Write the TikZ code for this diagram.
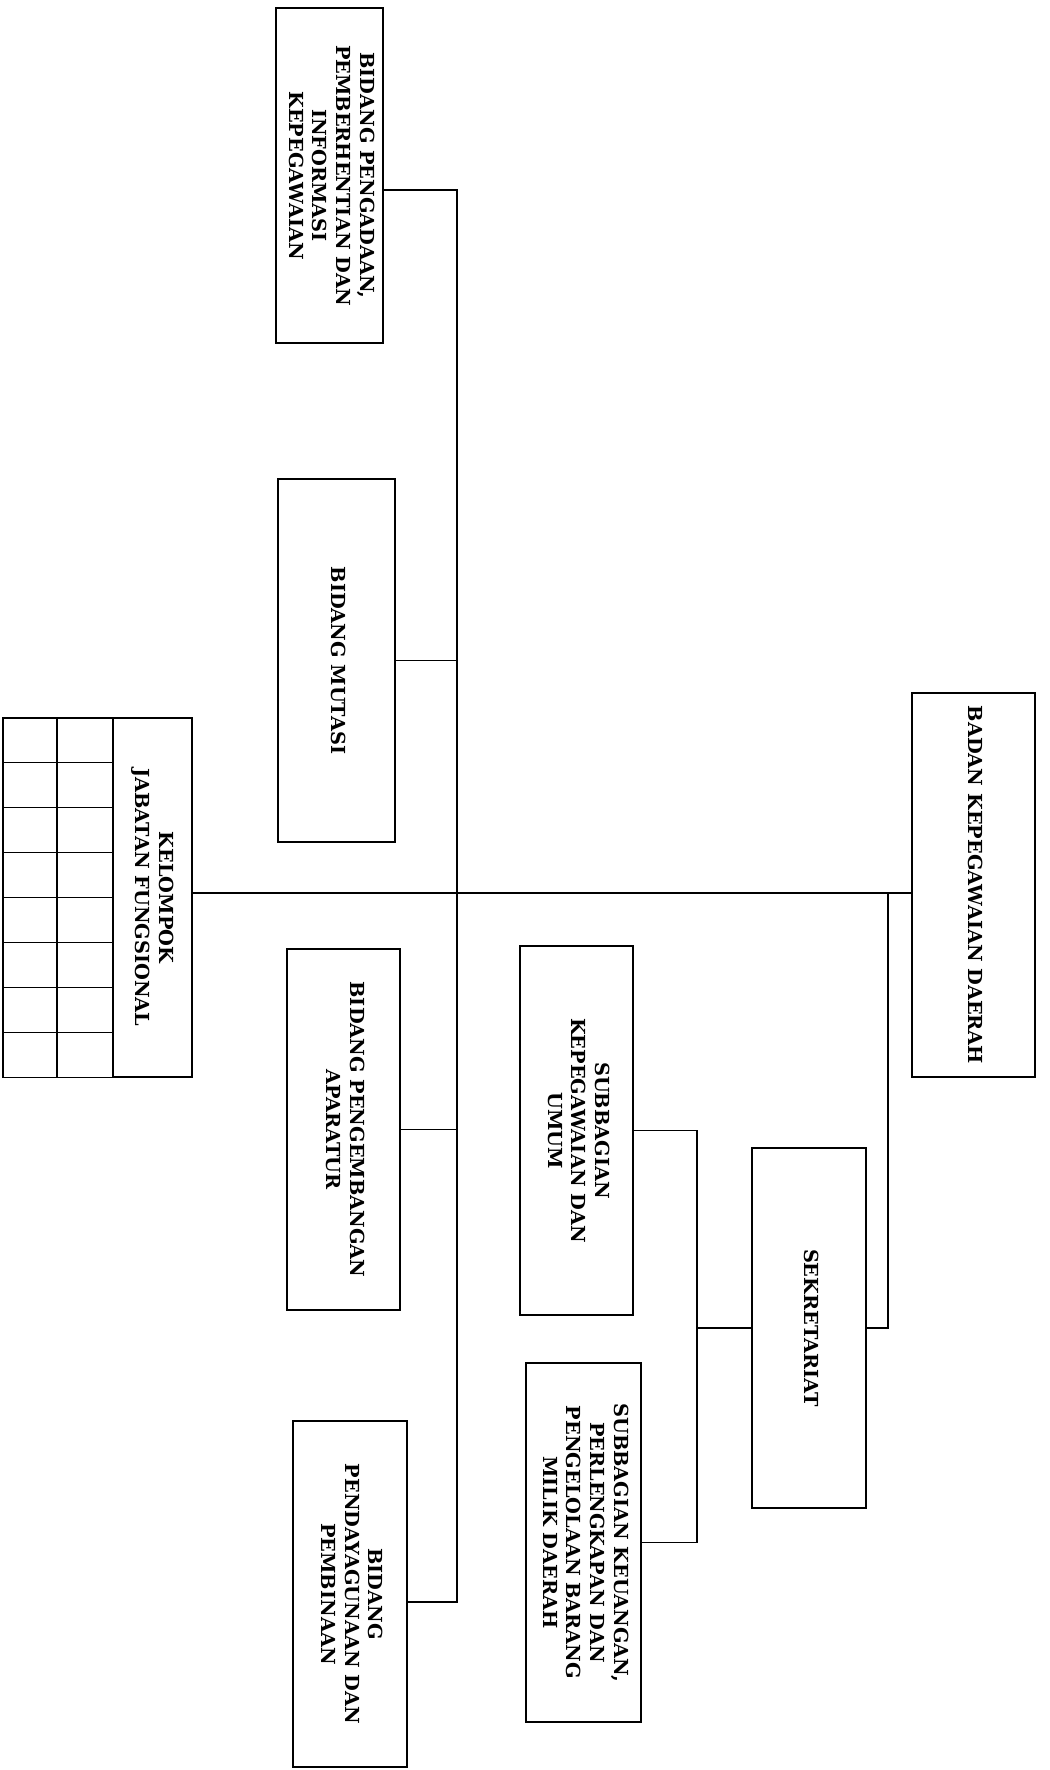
\documentclass[tikz,border=0pt]{standalone}
\usepackage{fontspec}
\setmainfont{DejaVu Serif}
\usepackage{graphicx}
\usepackage{tikz}

% text of a unit, set top to bottom
\newcommand{\vlabel}[1]{\rotatebox{-90}{\begin{tabular}{@{}c@{}}#1\end{tabular}}}

\begin{document}
\begin{tikzpicture}
		[x=0.02cm,y=-0.02cm,line cap=round,
		%Styles
		unit/.style={draw,line width=0.8pt,inner sep=0pt,font=\fontsize{11}{13.5}\selectfont\bfseries},
		link/.style={line width=0.6pt},
		cell/.style={line width=0.7pt}
		]
		
		\useasboundingbox (0,0) rectangle (1050,1770);
		
		%Head and secretariat
		\node[unit,minimum width=2.46cm,minimum height=7.68cm] (badan) at (973.5,885) {\vlabel{BADAN KEPEGAWAIAN DAERAH}};
		\node[unit,minimum width=2.28cm,minimum height=7.2cm] (sekretariat) at (809,1328) {\vlabel{SEKRETARIAT}};
		\node[unit,minimum width=2.26cm,minimum height=7.38cm] (subumum) at (576.5,1130.5) {\vlabel{SUBBAGIAN\\KEPEGAWAIAN DAN\\UMUM}};
		\node[unit,minimum width=2.3cm,minimum height=7.18cm] (subkeu) at (583.5,1542.5) {\vlabel{SUBBAGIAN KEUANGAN,\\PERLENGKAPAN DAN\\PENGELOLAAN BARANG\\MILIK DAERAH}};
		
		%The bidang
		\node[unit,minimum width=2.14cm,minimum height=6.7cm] (pengadaan) at (329.5,175.5) {\vlabel{BIDANG PENGADAAN,\\PEMBERHENTIAN DAN\\INFORMASI\\KEPEGAWAIAN}};
		\node[unit,minimum width=2.34cm,minimum height=7.26cm] (mutasi) at (336.5,660.5) {\vlabel{BIDANG MUTASI}};
		\node[unit,minimum width=2.26cm,minimum height=7.22cm] (pengembangan) at (343.5,1129.5) {\vlabel{BIDANG PENGEMBANGAN\\APARATUR}};
		\node[unit,minimum width=2.28cm,minimum height=6.92cm] (pendayagunaan) at (350,1594) {\vlabel{BIDANG\\PENDAYAGUNAAN DAN\\PEMBINAAN}};
		
		%Kelompok jabatan fungsional
		\node[unit,minimum width=1.58cm,minimum height=7.18cm] (head) at (152.5,897.5) {\vlabel{KELOMPOK\\JABATAN FUNGSIONAL}};
		\draw[cell] (3,718) rectangle (head.south west);
		\draw[cell] (57,718) -- (57,1077);
		\foreach \r in {1,...,7}
			\draw[cell] (3,{718+\r*44.875}) -- (113,{718+\r*44.875});
		
		%Lines
		\coordinate (hub) at (888,893);
		\coordinate (spinetop) at (457,190);
		\coordinate (spinebot) at (457,1602);
		\coordinate (subjoin) at (697,1328);
		
		\draw[link] (badan.west |- hub) -- (hub) -- (hub -| head.east);
		\draw[link] (hub) |- (sekretariat.east);
		\draw[link] (sekretariat.west) -- (subjoin);
		\draw[link] (subumum.east) -| (subjoin) |- (subkeu.east);
		
		\draw[link] (spinetop -| pengadaan.east) -- (spinetop) -- (spinebot) -- (spinebot -| pendayagunaan.east);
		\draw[link] (mutasi.east) -- (mutasi.east -| spinetop);
		\draw[link] (pengembangan.east) -- (pengembangan.east -| spinetop);
\end{tikzpicture}
\end{document}
